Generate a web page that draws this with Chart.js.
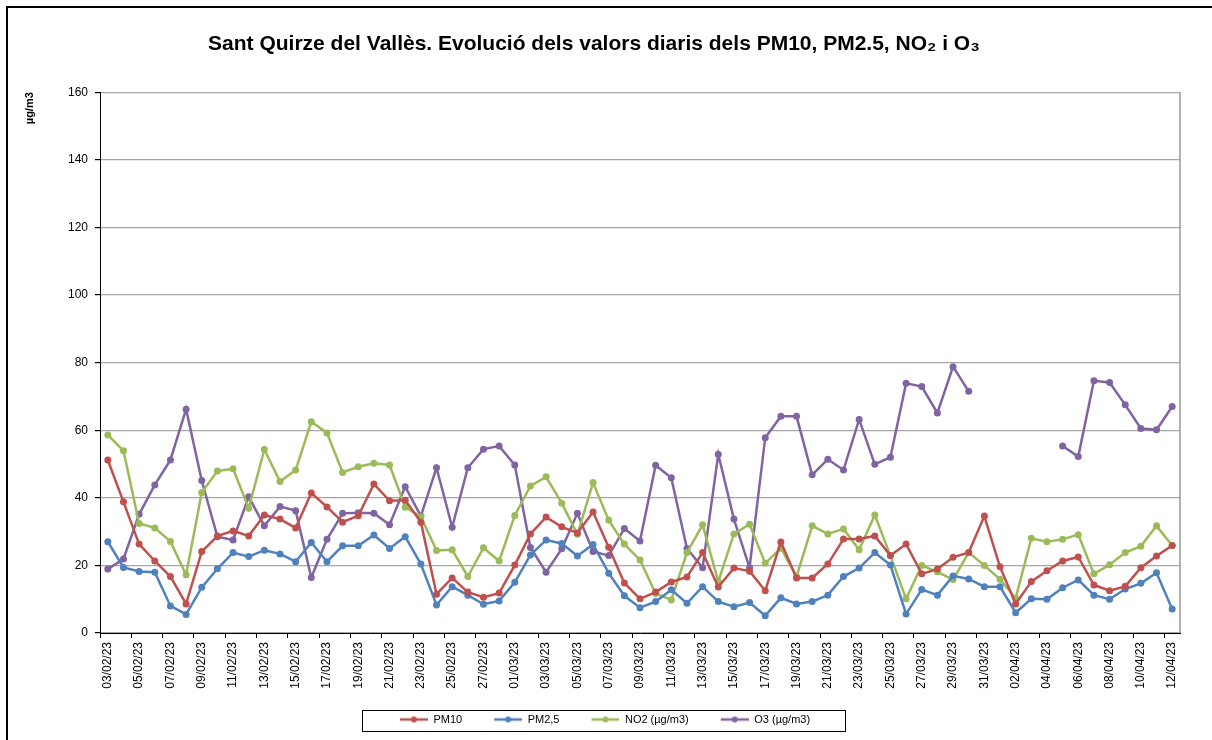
<!DOCTYPE html>
<html>
<head>
<meta charset="utf-8">
<script src="https://cdn.jsdelivr.net/npm/chart.js@4.4.0/dist/chart.umd.min.js"></script>
<style>
  html, body { margin: 0; padding: 0; background: #fff; }
  #wrap { width: 1212px; height: 740px; }
</style>
</head>
<body>
<div id="wrap"><canvas id="myChart" width="1212" height="740"></canvas></div>
<script>
var dates = [
  '03/02/23','04/02/23','05/02/23','06/02/23','07/02/23','08/02/23','09/02/23','10/02/23','11/02/23','12/02/23',
  '13/02/23','14/02/23','15/02/23','16/02/23','17/02/23','18/02/23','19/02/23','20/02/23','21/02/23','22/02/23',
  '23/02/23','24/02/23','25/02/23','26/02/23','27/02/23','28/02/23','01/03/23','02/03/23','03/03/23','04/03/23',
  '05/03/23','06/03/23','07/03/23','08/03/23','09/03/23','10/03/23','11/03/23','12/03/23','13/03/23','14/03/23',
  '15/03/23','16/03/23','17/03/23','18/03/23','19/03/23','20/03/23','21/03/23','22/03/23','23/03/23','24/03/23',
  '25/03/23','26/03/23','27/03/23','28/03/23','29/03/23','30/03/23','31/03/23','01/04/23','02/04/23','03/04/23',
  '04/04/23','05/04/23','06/04/23','07/04/23','08/04/23','09/04/23','10/04/23','11/04/23','12/04/23'
];

var pm10 = [51.2,38.8,26.3,21.3,16.7,8.6,24.1,28.7,30.2,28.7,
  34.9,33.7,31.1,41.4,37.3,32.8,34.7,44.1,39.1,
  39.3,32.8,11.5,16.3,12.1,10.6,11.8,20.1,29.3,34.3,
  31.4,29.6,35.8,25.4,14.8,10.1,12.1,15.1,
  16.6,23.8,13.6,19.2,18.3,12.5,26.9,16.3,16.3,20.4,
  27.8,27.8,28.7,22.9,26.3,17.5,18.9,22.4,23.8,
  34.6,19.6,8.6,15.2,18.4,21.3,22.5,14.2,12.5,13.8,19.3,22.8,25.9];

var pm25 = [27.0,19.4,18.2,18.0,8.0,5.5,13.5,19.0,23.8,22.6,
  24.5,23.4,21.1,26.8,21.1,25.8,25.8,29.0,25.0,
  28.5,20.4,8.3,13.7,11.2,8.5,9.5,15.0,23.1,27.5,
  26.5,22.8,26.2,17.7,11.0,7.5,9.3,12.8,
  8.8,13.7,9.3,7.8,9.0,5.1,10.4,8.6,9.3,11.2,
  16.7,19.2,23.8,20.1,5.6,12.9,11.2,16.9,16.0,
  13.7,13.7,6.0,10.1,10.0,13.4,15.7,11.2,10.0,13.0,14.7,17.8,7.1];

var no2 = [58.6,53.9,32.4,31.1,27.1,17.2,41.6,47.9,48.6,36.9,
  54.3,44.8,48.2,62.5,59.2,47.5,49.2,50.2,49.7,
  37.2,34.4,24.4,24.6,16.7,25.2,21.3,34.8,43.5,46.2,
  38.4,29.2,44.5,33.4,26.3,21.6,11.7,9.8,
  23.8,32.0,15.2,29.3,32.2,20.6,25.1,16.7,31.7,29.3,
  30.8,24.6,34.9,22.9,10.1,20.0,18.1,15.8,23.8,
  20.0,15.9,10.3,28.0,27.0,27.7,29.1,17.5,20.2,23.8,25.7,31.7,25.9];

var o3 = [18.9,21.9,35.1,43.8,51.2,66.2,45.1,28.5,27.5,40.3,
  31.7,37.4,36.2,16.4,27.7,35.4,35.6,35.4,32.0,
  43.3,34.6,48.9,31.3,48.9,54.4,55.3,49.7,25.3,18.0,
  24.9,35.4,24.1,22.9,30.9,27.2,49.6,45.9,
  25.0,19.3,52.9,33.7,19.3,57.8,64.1,64.1,46.8,51.4,
  48.2,63.2,49.9,52.0,73.9,72.9,65.1,78.8,71.5,
  null,null,null,null,null,55.3,52.2,74.6,74.1,67.5,60.5,60.1,67.0];

var yTicks = [0, 20, 40, 60, 80, 100, 120, 140, 160];

var FONT = "'Liberation Sans', Arial, Helvetica, sans-serif";

// line + dot swatch for the legend; left part left blank to widen the gap between items
function swatch(color) {
    var c = document.createElement('canvas');
    c.width = 50; c.height = 8;
    var g = c.getContext('2d');
    g.strokeStyle = color;
    g.lineWidth = 2.5;
    g.beginPath(); g.moveTo(22, 4); g.lineTo(50, 4); g.stroke();
    g.fillStyle = color;
    g.beginPath(); g.arc(36, 4, 3, 0, Math.PI * 2); g.fill();
    return c;
}

function series(label, data, color) {
    return {
        label: label,
        data: data,
        borderColor: color,
        backgroundColor: color,
        borderWidth: 2.5,
        pointRadius: 3.5,
        pointHoverRadius: 3.5,
        pointBorderWidth: 0,
        tension: 0,
        spanGaps: false
    };
}

var frame = {
    id: 'frame',
    beforeDraw: function(chart) {
        var c = chart.ctx;
        c.save();
        c.fillStyle = '#fff';
        c.fillRect(0, 0, chart.width, chart.height);
        c.strokeStyle = '#000';
        c.lineWidth = 2;
        c.beginPath();
        c.moveTo(7, chart.height); c.lineTo(7, 7); c.lineTo(chart.width, 7);
        c.stroke();
        c.restore();
    },
    beforeDatasetsDraw: function(chart) {
        var a = chart.chartArea, c = chart.ctx;
        c.save();
        c.strokeStyle = '#999';
        c.lineWidth = 1.5;
        c.beginPath();
        c.moveTo(a.right, a.top); c.lineTo(a.right, a.bottom);
        c.stroke();
        c.restore();
    },
    afterDraw: function(chart) {
        var boxes = chart.legend.legendHitBoxes;
        if (!boxes || !boxes.length) return;
        var l = Infinity, r = -Infinity, cy = 0;
        boxes.forEach(function(b) {
            l = Math.min(l, b.left);
            r = Math.max(r, b.left + b.width);
            cy += b.top + b.height / 2;
        });
        cy /= boxes.length;
        var c = chart.ctx;
        c.save();
        c.strokeStyle = '#000';
        c.lineWidth = 1;
        c.strokeRect(Math.round(l - 16) + 0.5, Math.round(cy - 10) + 0.5, Math.round(r - l + 51), 21);
        c.restore();
    }
};

var ctx = document.getElementById('myChart');
var myChart = new Chart(ctx, {
    type: 'line',
    data: {
        labels: dates,
        datasets: [
            series('PM10', pm10, '#C0504D'),
            series('PM2,5', pm25, '#4F81BD'),
            series('NO2 (µg/m3)', no2, '#9BBB59'),
            series('O3 (µg/m3)', o3, '#8064A2')
        ]
    },
    options: {
        responsive: false,
        animation: false,
        layout: { padding: { left: 8, right: 32, top: 0, bottom: 5 } },
        plugins: {
            title: {
                display: true,
                text: 'Sant Quirze del Vallès. Evolució dels valors diaris dels PM10, PM2.5, NO₂ i O₃',
                color: '#000',
                font: { family: FONT, size: 21, weight: 'bold' },
                padding: { top: 32, bottom: 35 }
            },
            legend: {
                position: 'bottom',
                labels: {
                    color: '#000',
                    font: { family: FONT, size: 11 },
                    usePointStyle: true,
                    pointStyleWidth: 50,
                    padding: 10,
                    generateLabels: function(chart) {
                        var items = Chart.defaults.plugins.legend.labels.generateLabels(chart);
                        items.forEach(function(it, i) {
                            it.pointStyle = swatch(chart.data.datasets[i].borderColor);
                        });
                        return items;
                    }
                }
            },
            tooltip: { enabled: false }
        },
        scales: {
            x: {
                offset: true,
                grid: {
                    offset: true,
                    drawOnChartArea: false,
                    drawTicks: true,
                    tickLength: 5,
                    tickColor: function(c) { return c.index !== undefined && c.index % 2 === 0 ? '#000' : 'rgba(0,0,0,0)'; }
                },
                border: { display: true, color: '#000', width: 1 },
                ticks: {
                    autoSkip: false,
                    minRotation: 90,
                    maxRotation: 90,
                    color: '#000',
                    padding: 4,
                    font: { family: FONT, size: 12 },
                    callback: function(v, i) { return i % 2 === 0 ? dates[i] : ''; }
                },
                afterFit: function(scale) { scale.height = 71; }
            },
            y: {
                min: 0,
                max: 160,
                afterBuildTicks: function(scale) {
                    scale.ticks = yTicks.map(function(v) { return { value: v }; });
                },
                grid: { color: '#a6a6a6', lineWidth: 1.2, tickLength: 5, tickColor: '#000' },
                border: { display: true, color: '#000', width: 1 },
                ticks: {
                    color: '#000',
                    padding: 7,
                    font: { family: FONT, size: 12 }
                },
                title: {
                    display: true,
                    text: 'µg/m3',
                    align: 'end',
                    color: '#000',
                    font: { family: FONT, size: 11, weight: 'bold' },
                    padding: { top: 15, bottom: 0 }
                },
                afterFit: function(scale) { scale.width = 92; }
            }
        }
    },
    plugins: [frame]
});
</script>
</body>
</html>
